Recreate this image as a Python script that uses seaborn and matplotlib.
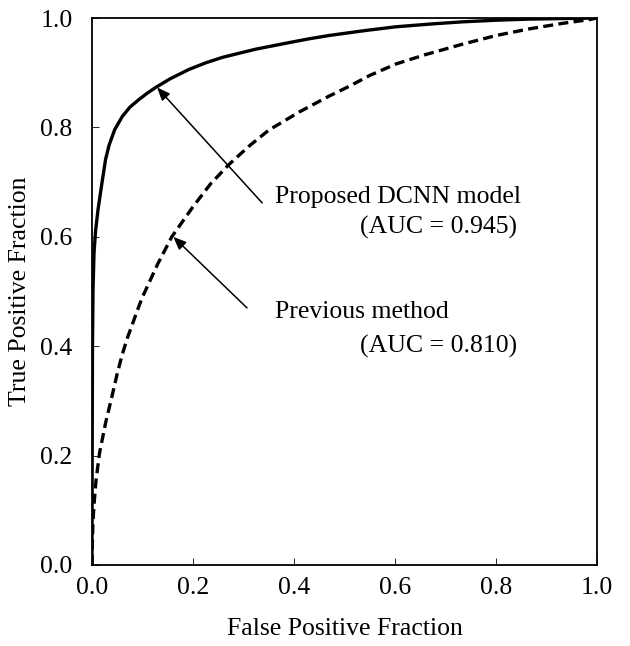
import matplotlib
matplotlib.use("Agg")
import matplotlib.pyplot as plt
import seaborn as sns
import pandas as pd

# ROC points
dcnn_fpf = [0.0, 0.0005, 0.001, 0.002, 0.004, 0.007, 0.012, 0.02, 0.027, 0.034, 0.045, 0.06,
            0.075, 0.093, 0.11, 0.126, 0.155, 0.192, 0.225, 0.258, 0.324, 0.39, 0.43, 0.469,
            0.54, 0.602, 0.67, 0.733, 0.8, 0.865, 0.93, 1.0]
dcnn_tpf = [0.0, 0.25, 0.40, 0.50, 0.57, 0.61, 0.65, 0.70, 0.742, 0.768, 0.796, 0.82,
            0.837, 0.851, 0.863, 0.873, 0.889, 0.906, 0.918, 0.928, 0.943, 0.955, 0.962, 0.968,
            0.977, 0.984, 0.989, 0.993, 0.996, 0.998, 0.999, 1.0]

prev_fpf = [0.0, 0.001, 0.002, 0.004, 0.008, 0.015, 0.027, 0.04, 0.05, 0.06, 0.07, 0.08,
            0.09, 0.1, 0.13, 0.158, 0.2, 0.235, 0.271, 0.31, 0.35, 0.41, 0.469, 0.509,
            0.55, 0.602, 0.66, 0.733, 0.8, 0.865, 0.93, 0.984, 1.0]
prev_tpf = [0.0, 0.05, 0.08, 0.11, 0.155, 0.205, 0.26, 0.31, 0.35, 0.385, 0.415, 0.44,
            0.466, 0.49, 0.55, 0.60, 0.655, 0.697, 0.732, 0.765, 0.795, 0.828, 0.857, 0.875,
            0.895, 0.916, 0.933, 0.952, 0.968, 0.98, 0.99, 0.997, 1.0]

ticks = [0.0, 0.2, 0.4, 0.6, 0.8, 1.0]
tick_labels = ["0.0", "0.2", "0.4", "0.6", "0.8", "1.0"]

sns.set_theme(style="white")
plt.rcParams['font.family'] = ['Liberation Serif', 'DejaVu Serif']
plt.rcParams['text.color'] = 'black'
plt.rcParams['axes.labelcolor'] = 'black'

dcnn = pd.DataFrame({"fpf": dcnn_fpf, "tpf": dcnn_tpf})
prev = pd.DataFrame({"fpf": prev_fpf, "tpf": prev_tpf})

fig = plt.figure(figsize=(6.3, 6.46), dpi=100)
ax = fig.add_axes([0.1460, 0.1254, 0.8016, 0.8467])

sns.lineplot(data=dcnn, x="fpf", y="tpf", sort=False, estimator=None,
             color="black", linewidth=2.4, ax=ax)
sns.lineplot(data=prev, x="fpf", y="tpf", sort=False, estimator=None,
             color="black", linewidth=2.4, linestyle=(0, (3, 1.6)), ax=ax)

fs = 18.5
ax.set_xlim(0, 1)
ax.set_ylim(0, 1)
ax.set_xticks(ticks)
ax.set_xticklabels(tick_labels)
ax.set_yticks(ticks)
ax.set_yticklabels(tick_labels)
ax.tick_params(direction="in", length=5, width=0.6, labelsize=fs, colors="black",
               bottom=True, left=True, top=False, right=False)
ax.tick_params(axis="x", pad=9)
ax.tick_params(axis="y", pad=14)
for s in ax.spines.values():
    s.set_color("black")
    s.set_linewidth(1.3)

ax.set_xlabel("False Positive Fraction", fontsize=fs, labelpad=13, color="black")
ax.set_ylabel("True Positive Fraction", fontsize=fs, labelpad=7, color="black")

arrow = dict(arrowstyle="-|>,head_length=0.65,head_width=0.27", color="black", lw=1.1,
             shrinkA=0, shrinkB=0)
ax.annotate("", xy=(0.129, 0.873), xytext=(0.337, 0.662), arrowprops=arrow)
ax.annotate("", xy=(0.161, 0.600), xytext=(0.307, 0.470), arrowprops=arrow)

ax.text(0.362, 0.673, "Proposed DCNN model", fontsize=fs, ha="left", va="center", color="black")
ax.text(0.842, 0.617, "(AUC = 0.945)", fontsize=fs, ha="right", va="center", color="black")
ax.text(0.362, 0.462, "Previous method", fontsize=fs, ha="left", va="center", color="black")
ax.text(0.842, 0.400, "(AUC = 0.810)", fontsize=fs, ha="right", va="center", color="black")

fig.savefig("out.png", dpi=100)
